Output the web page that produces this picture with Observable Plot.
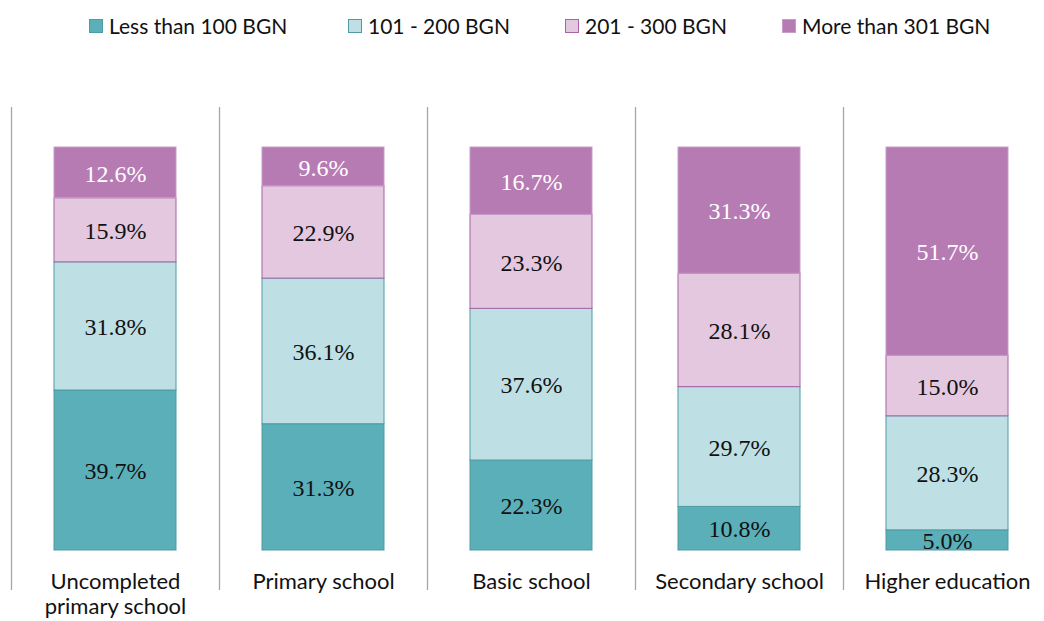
<!DOCTYPE html>
<html>
<head>
<meta charset="utf-8">
<script src="https://cdn.jsdelivr.net/npm/d3@7"></script>
<script src="https://cdn.jsdelivr.net/npm/@observablehq/plot@0.6"></script>
<style>
  html, body { margin: 0; padding: 0; background: #fff; }
  #wrap { width: 1044px; height: 621px; position: relative; overflow: hidden; }
  #legend { position: relative; height: 50px; width: 1044px; font-family: Lato, "Open Sans", sans-serif; font-size: 21px; color: #111; }
  .item { position: absolute; top: 13px; display: flex; align-items: center; white-space: nowrap; }
  .sw { width: 14px; height: 14px; box-sizing: border-box; border: 1px solid; margin-right: 6px; }
</style>
</head>
<body>
<div id="wrap">
  <div id="legend"></div>
  <div id="chart"></div>
</div>
<script>
const categories = ["Uncompleted primary school", "Primary school", "Basic school", "Secondary school", "Higher education"];
const categoryLabels = ["Uncompleted\nprimary school", "Primary school", "Basic school", "Secondary school", "Higher education"];
const series = ["Less than 100 BGN", "101 - 200 BGN", "201 - 300 BGN", "More than 301 BGN"];
const lessThan100 = [39.7, 31.3, 22.3, 10.8, 5.0];
const from101to200 = [31.8, 36.1, 37.6, 29.7, 28.3];
const from201to300 = [15.9, 22.9, 23.3, 28.1, 15.0];
const moreThan301 = [12.6, 9.6, 16.7, 31.3, 51.7];

const fills = ["#5AAFB8", "#BEDFE4", "#E3C8E0", "#B77BB4"];
const strokes = ["#4E9BA4", "#4E9BA4", "#A864A6", "#C99BC7"];
const textColors = ["#111", "#111", "#111", "#fff"];
const legendLeft = [89, 348, 565, 782];

const valuesBySeries = [lessThan100, from101to200, from201to300, moreThan301];
const data = [];
series.forEach((s, si) => {
  categories.forEach((c, ci) => {
    data.push({category: c, series: s, value: valuesBySeries[si][ci]});
  });
});

// Legend
const legend = document.getElementById("legend");
series.forEach((s, i) => {
  const item = document.createElement("div");
  item.className = "item";
  item.style.left = legendLeft[i] + "px";
  const sw = document.createElement("span");
  sw.className = "sw";
  sw.style.background = fills[i];
  sw.style.borderColor = strokes[i];
  item.appendChild(sw);
  const t = document.createElement("span");
  t.textContent = s;
  item.appendChild(t);
  legend.appendChild(item);
});

const step = 208;
const chart = Plot.plot({
  width: 1044,
  height: 571,
  marginTop: 97,
  marginBottom: 71,
  marginLeft: 0,
  marginRight: 0,
  x: {domain: categories, range: [11, 11 + step * categories.length], padding: 0, axis: null},
  y: {domain: [0, 1], axis: null},
  color: {domain: series, range: fills},
  style: {background: "transparent"},
  marks: [
    Plot.ruleX(categories, {x: d => d, dx: -step / 2, stroke: "#a6a6a6", strokeWidth: 1.3, insetTop: -40, insetBottom: -40}),
    Plot.barY(data, Plot.stackY({
      x: "category", y: "value", z: "series", offset: "normalize",
      fill: "series",
      stroke: d => strokes[series.indexOf(d.series)],
      strokeWidth: 1,
      insetLeft: 43, insetRight: 43
    })),
    Plot.text(data, Plot.stackY({
      x: "category", y: "value", z: "series", offset: "normalize",
      text: d => d.value.toFixed(1) + "%",
      fill: d => textColors[series.indexOf(d.series)],
      fontFamily: "Liberation Serif, DejaVu Serif, serif",
      fontSize: 24,
      dy: 1
    })),
    Plot.text(categories, {
      x: d => d,
      text: (d, i) => categoryLabels[i],
      frameAnchor: "bottom",
      lineAnchor: "top",
      dy: 21,
      lineHeight: 1.14,
      fontFamily: "Lato, Open Sans, sans-serif",
      fontSize: 22,
      fill: "#111"
    })
  ]
});
chart.style.overflow = "visible";
document.getElementById("chart").appendChild(chart);
</script>
</body>
</html>
